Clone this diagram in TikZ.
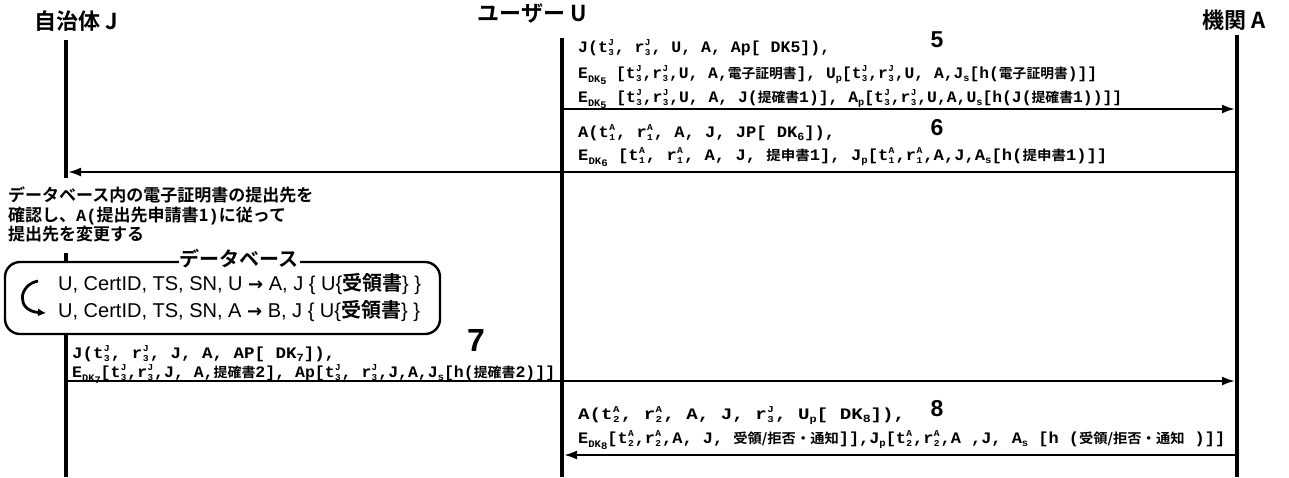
\documentclass[tikz,border=0pt]{standalone}
\usepackage{graphicx}
\usepackage{fontspec}
\setmainfont{Liberation Sans}
\newfontfamily\mono{Liberation Mono}
\newfontfamily\cjk{Noto Sans CJK JP}[BoldFont={Noto Sans CJK JP Bold}]
\newfontfamily\dvs{DejaVu Sans}
\usetikzlibrary{arrows.meta}
\newcommand{\jp}[1]{{\cjk\bfseries #1}}
\newcommand{\jm}[1]{{\cjk\bfseries\fontsize{13.5}{13.5}\selectfont #1}}
\newcommand{\tsr}[3]{#1\kern0.3pt\rlap{\raisebox{0.8ex}{\fontsize{9}{9}\selectfont #2}}\raisebox{-0.45ex}{\fontsize{9}{9}\selectfont #3}\kern1pt}
\newcommand{\sbx}[2]{#1\raisebox{-0.45ex}{\fontsize{10}{10}\selectfont #2}}
\newcommand{\Edk}[1]{E\raisebox{-0.5ex}{\fontsize{10}{10}\selectfont DK\raisebox{-0.4ex}{#1}}}
\newcommand{\rarr}{{\dvs\bfseries\fontsize{18}{18}\selectfont →}}
\newcommand{\fitw}[2]{\resizebox{#1pt}{\height}{#2}}
\begin{document}
\begin{tikzpicture}[x=1pt,y=-1pt,
  life/.style={line width=3.8pt},
  msg/.style={line width=2.2pt,-{Latex[length=13pt,width=9pt]}},
  head/.style={font=\cjk\bfseries\fontsize{22}{22}\selectfont,inner sep=0pt},
  txt/.style={font=\mono\bfseries\fontsize{16}{16}\selectfont,anchor=base west,inner sep=0pt},
  num/.style={font=\bfseries\fontsize{23}{23}\selectfont,inner sep=0pt},
  note/.style={font=\cjk\bfseries\fontsize{17}{17}\selectfont,anchor=base west,inner sep=0pt},
  db/.style={font=\fontsize{20}{20}\selectfont,anchor=base west,inner sep=0pt}]
\useasboundingbox[fill=white] (0,0) rectangle (1289,477);

% headings
\node[head] (hJ) at (76,21) {自治体 J};
\node[head] (hU) at (532,13) {ユーザー U};
\node[head] (hA) at (1234,20) {機関 A};

% lifeline coordinates
\coordinate (J0) at (66,40);
\coordinate (J6) at (66,178);
\coordinate (Jt1) at (66,253);
\coordinate (Jt2) at (66,262);
\coordinate (J7s) at (66,334);
\coordinate (Jend) at (66,477);
\coordinate (U0) at (562,38);
\coordinate (Uend) at (562,477);
\coordinate (A0) at (1237,35);
\coordinate (Aend) at (1237,477);
\coordinate (u5) at (562,109);
\coordinate (a5) at (1237,109);
\coordinate (a6) at (1237,172);
\coordinate (j6) at (66,172);
\coordinate (j7) at (66,381);
\coordinate (a7) at (1237,381);
\coordinate (a8) at (1237,455);
\coordinate (u8) at (562,455);

\draw[life] (J0) -- (J6);
\draw[life] (Jt1) -- (Jt2);
\draw[life] (J7s) -- (Jend);
\draw[life] (U0) -- (Uend);
\draw[life] (A0) -- (Aend);

% message 5
\node[num] (n5) at (937,40) {5};
\node[txt] (m5a) at (578,52) {\fitw{252}{J(\tsr{t}{J}{3}, \tsr{r}{J}{3}, U, A, Ap[ DK5]),}};
\node[txt] (m5b) at (578,78) {\fitw{519}{\Edk{5} [\tsr{t}{J}{3},\tsr{r}{J}{3},U, A,\jm{電子証明書}], \sbx{U}{p}[\tsr{t}{J}{3},\tsr{r}{J}{3},U, A,\sbx{J}{s}[h(\jm{電子証明書})]]}};
\node[txt] (m5c) at (578,102) {\fitw{544}{\Edk{5} [\tsr{t}{J}{3},\tsr{r}{J}{3},U, A, J(\jm{提確書}1)], \sbx{A}{p}[\tsr{t}{J}{3},\tsr{r}{J}{3},U,A,\sbx{U}{s}[h(J(\jm{提確書}1))]]}};
\draw[msg,shorten >=2pt] (u5) -- (a5);

% message 6
\node[num] (n6) at (937,128) {6};
\node[txt] (m6a) at (578,137) {\fitw{257}{A(\tsr{t}{A}{1}, \tsr{r}{A}{1}, A, J, JP[ DK\raisebox{-0.4ex}{\fontsize{11}{11}\selectfont 6}]),}};
\node[txt] (m6b) at (578,160) {\fitw{529}{\Edk{6} [\tsr{t}{A}{1}, \tsr{r}{A}{1}, A, J, \jm{提申書}1], \sbx{J}{p}[\tsr{t}{A}{1},\tsr{r}{A}{1},A,J,\sbx{A}{s}[h(\jm{提申書}1)]]}};
\draw[msg,shorten >=2pt] (a6) -- (j6);

% note
\node[note] (t1) at (8,201) {データベース内の電子証明書の提出先を};
\node[note] (t2) at (8,221) {確認し、{\mono A(}提出先申請書1{\mono )}に従って};
\node[note] (t3) at (8,240) {提出先を変更する};

% database box
\draw[line width=2.4pt,rounded corners=15pt] (5,262) rectangle (440,334);
\node[font=\cjk\bfseries\fontsize{20}{20}\selectfont,fill=white,inner sep=1pt] (dbt) at (239,259) {データベース};
\node[db] (d1) at (58,290) {U, CertID, TS, SN, U \rarr{} A, J \{ U\{\jp{受領書}\} \}};
\node[db] (d2) at (58,317) {U, CertID, TS, SN, A \rarr{} B, J \{ U\{\jp{受領書}\} \}};
\coordinate (c1) at (38,281);
\coordinate (c2) at (46,313);
\draw[line width=2.8pt,-{Latex[length=8pt,width=8pt]}] (c1) .. controls (18,285) and (16,311) .. (c2);

% message 7
\node[font=\bfseries\fontsize{32}{32}\selectfont,inner sep=0pt] (n7) at (476,340) {7};
\node[txt] (m7a) at (72,358) {\fitw{263}{J(\tsr{t}{J}{3}, \tsr{r}{J}{3}, J, A, AP[ DK\raisebox{-0.4ex}{\fontsize{11}{11}\selectfont 7}]),}};
\node[txt] (m7b) at (72,377) {\fitw{483}{\Edk{7}[\tsr{t}{J}{3},\tsr{r}{J}{3},J, A,\jm{提確書}2], Ap[\tsr{t}{J}{3}, \tsr{r}{J}{3},J,A,\sbx{J}{s}[h(\jm{提確書}2)]]}};
\draw[msg,shorten >=2pt] (j7) -- (a7);

% message 8
\node[num] (n8) at (937,409) {8};
\node[txt] (m8a) at (578,419) {\fitw{327}{A(\tsr{t}{A}{2}, \tsr{r}{A}{2}, A, J, \tsr{r}{J}{3}, \sbx{U}{p}[ DK\raisebox{-0.4ex}{\fontsize{11}{11}\selectfont 8}]),}};
\node[txt] (m8b) at (578,443) {\fitw{647}{\Edk{8}[\tsr{t}{A}{2},\tsr{r}{A}{2},A, J, \jm{受領/拒否・通知}]],\sbx{J}{p}[\tsr{t}{A}{2},\tsr{r}{A}{2},A ,J, \sbx{A}{s} [h (\jm{受領/拒否・通知} )]]}};
\draw[msg,shorten >=2pt] (a8) -- (u8);
\end{tikzpicture}
\end{document}
